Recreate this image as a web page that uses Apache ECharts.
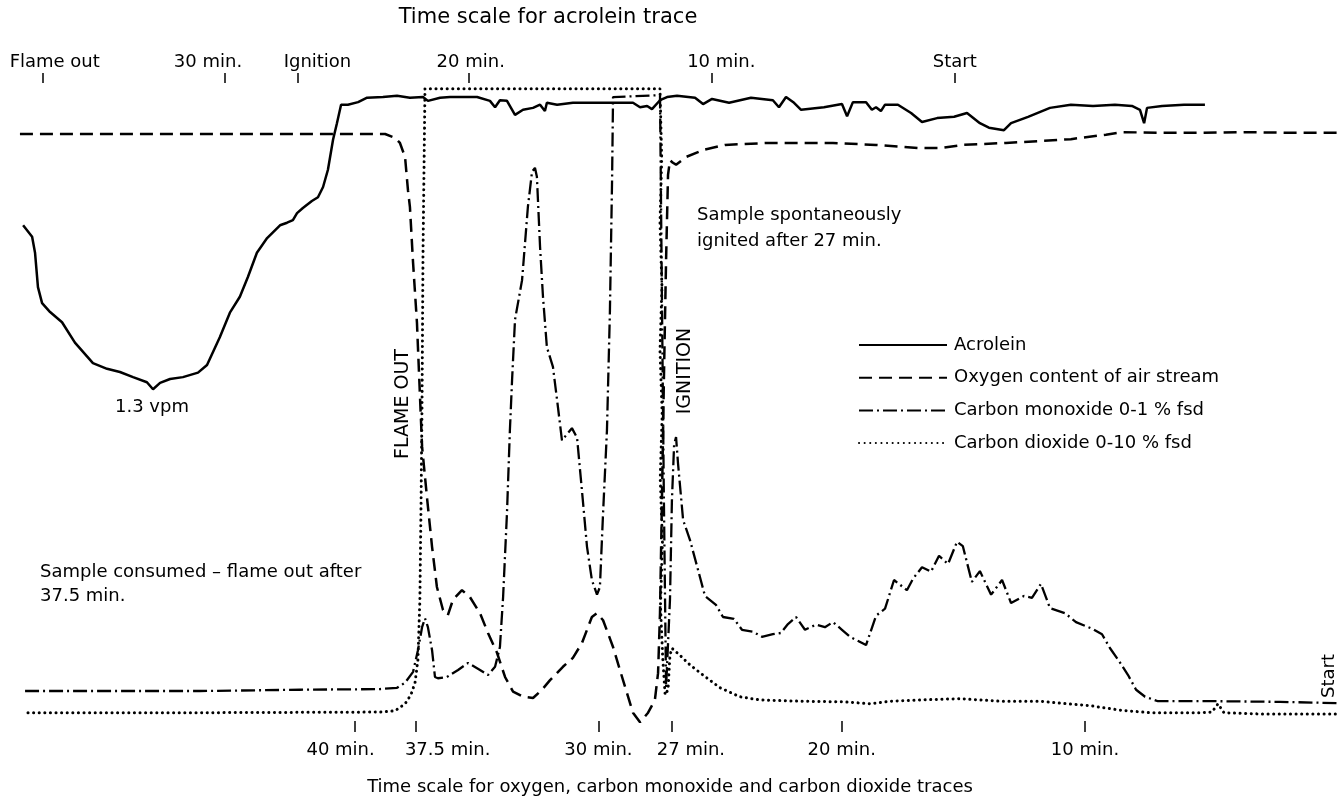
<!DOCTYPE html>
<html><head><meta charset="utf-8">
<script src="https://cdn.jsdelivr.net/npm/echarts@6/dist/echarts.min.js"></script>
<style>html,body{margin:0;padding:0;background:#fff}#c{width:1338px;height:798px}</style>
</head><body><div id="c"></div><script>
// ---- Tick labels ----
const topTickValues = [37.5, 30, 27, 20, 10, 0];
const topTickLabels = ['Flame out', '30 min.', 'Ignition', '20 min.', '10 min.', 'Start'];
const bottomTickValues = [40, 37.5, 30, 27, 20, 10];
const bottomTickLabels = ['40 min.', '37.5 min.', '30 min.', '27 min.', '20 min.', '10 min.'];

// ---- Acrolein (time on acrolein scale, min; level in % of chart height) ----
const acroleinTime = [38.30,37.93,37.81,37.69,37.52,37.19,36.70,36.17,35.43,34.85,34.32,33.78,33.21,32.96,32.67,32.26,31.73,31.11,30.74,30.21,29.80,29.39,29.06,28.69,28.27,27.74,27.45,27.21,27.04,26.80,26.43,26.18,25.97,25.77,25.56,25.40,25.23,24.95,24.53,24.16,23.51,22.93,22.40,21.86,21.66,21.16,20.75,19.64,19.11,18.90,18.70,18.41,18.08,17.75,17.34,17.05,16.85,16.77,16.35,15.70,14.59,13.89,13.23,12.94,12.65,12.45,12.12,11.83,11.42,10.68,10.35,9.98,9.28,8.38,7.48,7.23,6.94,6.61,6.32,5.38,4.64,4.43,4.19,3.65,3.41,3.24,3.04,2.87,2.34,1.80,1.35,0.73,0.03,-0.50,-1.03,-1.40,-2.02,-2.31,-3.01,-3.91,-4.77,-5.68,-6.58,-7.28,-7.61,-7.78,-7.90,-8.52,-9.42,-10.28];
const acroleinLevel = [77.7,75.9,73.4,68.0,65.5,64.1,62.5,59.3,56.1,55.2,54.7,53.9,53.1,52.0,53.0,53.6,53.9,54.6,55.8,60.2,64.0,66.5,69.6,73.4,75.7,77.7,78.1,78.5,79.6,80.4,81.5,82.1,83.7,86.4,91.1,93.7,96.6,96.6,97.0,97.7,97.8,98.0,97.7,97.8,97.2,97.7,97.8,97.8,97.2,96.2,97.3,97.2,95.0,95.8,96.1,96.6,95.6,96.9,96.6,96.9,96.9,96.9,96.9,96.2,96.4,95.9,97.3,97.8,98.0,97.7,96.7,97.5,96.9,97.7,97.3,96.2,97.8,96.9,95.8,96.2,96.7,94.8,97.0,97.0,95.8,96.2,95.6,96.6,96.6,95.3,93.9,94.5,94.7,95.3,93.7,93.0,92.6,93.7,94.7,96.1,96.6,96.4,96.6,96.4,95.8,93.7,96.1,96.4,96.6,96.6];

// ---- Oxygen (time on O2/CO/CO2 scale, min) ----
const oxygenTime = [53.78,38.77,38.36,38.16,37.95,37.83,37.75,37.62,37.46,37.42,37.25,37.05,36.84,36.64,36.39,36.19,35.98,35.61,35.28,34.87,34.54,34.17,33.84,33.51,33.10,32.69,32.32,31.99,31.46,31.05,30.68,30.27,30.06,29.81,29.40,28.99,28.58,28.29,27.96,27.68,27.55,27.47,27.39,27.31,27.22,27.14,27.06,26.94,26.81,26.40,25.70,24.80,23.03,20.36,18.59,16.78,15.92,15.02,13.25,10.58,9.14,8.44,7.00,5.23,3.46,1.66,-0.40];
const oxygenLevel = [92.0,92.0,91.4,90.6,88.4,83.2,80.6,71.8,62.4,58.6,43.0,35.1,27.3,21.0,17.4,16.6,19.0,20.5,19.4,16.9,13.8,10.7,6.9,4.6,3.8,3.6,4.9,6.4,8.5,9.9,12.2,16.3,16.9,15.8,11.6,6.4,1.3,-0.2,1.3,3.3,7.5,16.9,34.6,53.5,72.3,85.6,87.9,87.5,87.2,88.4,89.5,90.3,90.6,90.6,90.3,89.8,89.8,90.3,90.6,91.2,91.9,92.3,92.2,92.2,92.3,92.2,92.2];

// ---- Carbon monoxide ----
const coTime = [53.57,46.38,42.27,38.98,38.28,37.95,37.62,37.42,37.25,37.13,37.01,36.84,36.72,36.60,36.23,35.77,35.36,34.87,34.54,34.25,34.05,33.92,33.76,33.64,33.55,33.43,33.14,32.90,32.73,32.61,32.53,32.40,32.28,32.12,31.87,31.70,31.50,31.09,30.88,30.68,30.47,30.27,30.06,29.94,29.81,29.65,29.53,29.44,29.40,27.47,27.39,27.31,27.22,27.14,27.06,26.98,26.89,26.81,26.73,26.52,26.24,25.95,25.62,25.17,24.88,24.43,24.10,23.65,23.28,22.83,22.50,22.21,21.88,21.51,21.06,20.69,20.36,19.99,19.66,19.00,18.59,18.22,17.85,17.32,17.07,16.70,16.33,16.00,15.63,15.26,15.02,14.65,14.32,13.86,13.41,13.04,12.51,12.18,11.81,11.44,10.82,10.37,9.67,9.30,8.97,8.60,8.23,7.90,7.53,7.00,4.45,1.98,-0.40];
const coLevel = [4.7,4.7,4.9,5.0,5.2,6.0,7.7,11.1,14.7,16.1,14.7,11.1,6.9,6.7,6.9,8.0,9.1,8.0,7.2,8.5,11.6,19.4,32.6,45.6,53.5,62.9,69.1,80.6,86.1,86.7,85.3,74.3,66.5,58.6,55.5,50.3,44.0,45.9,44.4,36.2,27.3,22.1,19.8,21.0,32.6,45.6,64.0,84.8,97.8,98.1,66.0,34.6,5.2,4.9,19.0,34.6,43.3,44.5,40.4,31.5,28.4,24.3,19.6,18.2,16.3,16.0,14.3,14.0,13.2,13.6,13.8,15.2,16.3,14.3,15.1,14.7,15.5,14.3,13.2,11.9,16.5,17.6,22.1,20.5,22.3,24.1,23.4,25.9,24.6,28.1,27.4,21.8,23.5,19.8,22.1,18.5,19.6,19.3,21.5,17.7,16.9,15.5,14.4,13.6,11.4,9.4,7.2,4.9,3.8,3.1,3.1,3.0,2.8];

// ---- Carbon dioxide ----
const co2Time = [53.45,46.38,38.98,38.36,37.95,37.71,37.54,37.42,37.34,37.29,37.25,37.21,37.13,27.47,27.40,27.47,27.39,27.47,27.38,27.46,27.37,27.45,27.36,27.26,27.14,27.06,26.98,26.65,26.24,25.70,25.00,24.18,23.36,21.72,19.87,18.84,18.02,16.78,15.14,13.49,11.85,11.03,9.79,8.56,7.33,5.27,4.78,4.53,4.29,2.81,1.16,-0.40];
const co2Level = [1.3,1.3,1.4,1.6,2.7,4.1,6.0,9.6,19.0,34.6,50.3,73.8,99.1,99.1,88.0,78.0,68.0,58.0,48.0,38.0,28.0,18.0,10.0,4.1,4.9,10.3,11.4,10.3,8.8,7.2,5.2,3.8,3.3,3.1,3.0,2.7,3.1,3.3,3.5,3.1,3.1,2.8,2.4,1.7,1.3,1.3,1.4,2.7,1.3,1.1,1.1,1.1];

const seriesNames = ['Acrolein', 'Oxygen content of air stream', 'Carbon monoxide 0-1 % fsd', 'Carbon dioxide 0-10 % fsd'];

// ---- layout ----
const FONT = 'DejaVu Sans';
const topLabelShift = [-0.5, 0.7, -0.8, -0.1, -0.4, 0];
const bottomLabelShift = [0.6, -1.3, 0, -0.8, 0, 0];
const topLabelAnchors = topTickValues.map((v, i) => v + topLabelShift[i]);
const bottomLabelAnchors = bottomTickValues.map((v, i) => v + bottomLabelShift[i]);
function labelFor(v, anchors, texts) {
  for (let i = 0; i < anchors.length; i++) if (Math.abs(anchors[i] - v) < 1e-6) return texts[i];
  return '';
}
const zip = (a, b) => a.map((v, i) => [v, b[i]]);

const chart = echarts.init(document.getElementById('c'), null, {renderer: 'canvas'});
const baseLine = {type: 'line', symbol: 'none', showSymbol: false, smooth: false, clip: false, silent: true, color: '#000'};
const txt = (x, y, text, size, extra) => Object.assign({
  type: 'text', x: x, y: y,
  style: Object.assign({text: text, fill: '#000', font: size + 'px "' + FONT + '"', fontSize: size, fontFamily: FONT,
    align: 'center', verticalAlign: 'middle', textAlign: 'center', textVerticalAlign: 'middle'}, extra && extra.style || {})
}, extra && extra.el || {});

chart.setOption({
  animation: false,
  backgroundColor: '#fff',
  grid: {left: 0, right: 0, top: 83, bottom: 77},
  xAxis: [
    {type: 'value', position: 'bottom', inverse: true, min: -0.4, max: 54.6,
      axisLine: {show: false}, splitLine: {show: false},
      axisTick: {show: true, customValues: bottomTickValues, length: 11, lineStyle: {color: '#000', width: 1.5}},
      axisLabel: {customValues: bottomLabelAnchors, margin: 20, fontSize: 18, fontFamily: FONT, color: '#000',
        formatter: v => labelFor(v, bottomLabelAnchors, bottomTickLabels)}},
    {type: 'value', position: 'top', inverse: true, min: -15.75, max: 39.25,
      axisLine: {show: false}, splitLine: {show: false},
      axisTick: {show: true, customValues: topTickValues, length: 10, lineStyle: {color: '#000', width: 1.5}},
      axisLabel: {customValues: topLabelAnchors, margin: 12, fontSize: 18, fontFamily: FONT, color: '#000',
        formatter: v => labelFor(v, topLabelAnchors, topTickLabels)}}
  ],
  yAxis: {type: 'value', min: 0, max: 100, show: false},
  legend: {
    left: 853, top: 330, orient: 'vertical', selectedMode: false,
    itemWidth: 88, itemHeight: 14, itemGap: 12.7,
    itemStyle: {opacity: 0},
    textStyle: {fontSize: 18, fontFamily: FONT, color: '#000', lineHeight: 20, padding: [0, 0, 0, 2]},
    data: seriesNames
  },
  series: [
    Object.assign({}, baseLine, {name: seriesNames[0], xAxisIndex: 1, data: zip(acroleinTime, acroleinLevel),
      lineStyle: {color: '#000', width: 2.5, type: 'solid'}}),
    Object.assign({}, baseLine, {name: seriesNames[1], xAxisIndex: 0, data: zip(oxygenTime, oxygenLevel),
      lineStyle: {color: '#000', width: 2.5, type: [13, 7]}}),
    Object.assign({}, baseLine, {name: seriesNames[2], xAxisIndex: 0, data: zip(coTime, coLevel),
      lineStyle: {color: '#000', width: 2.3, type: [14, 4, 2, 4]}}),
    Object.assign({}, baseLine, {name: seriesNames[3], xAxisIndex: 0, data: zip(co2Time, co2Level),
      lineStyle: {color: '#000', width: 3, type: [0.1, 5.5], cap: 'round'}})
  ],
  graphic: [
    txt(548, 18, 'Time scale for acrolein trace', 21),
    txt(670, 787, 'Time scale for oxygen, carbon monoxide and carbon dioxide traces', 18),
    txt(697, 228, 'Sample spontaneously\nignited after 27 min.', 18, {style: {align: 'left', textAlign: 'left', lineHeight: 26}}),
    txt(40, 584, 'Sample consumed – flame out after\n37.5 min.', 18, {style: {align: 'left', textAlign: 'left', lineHeight: 24}}),
    txt(152, 407, '1.3 vpm', 18),
    txt(403, 404, 'FLAME OUT', 19, {el: {rotation: Math.PI / 2}}),
    txt(685, 371, 'IGNITION', 19, {el: {rotation: Math.PI / 2}}),
    txt(1329, 676, 'Start', 18, {el: {rotation: Math.PI / 2}})
  ]
});
</script></body></html>
